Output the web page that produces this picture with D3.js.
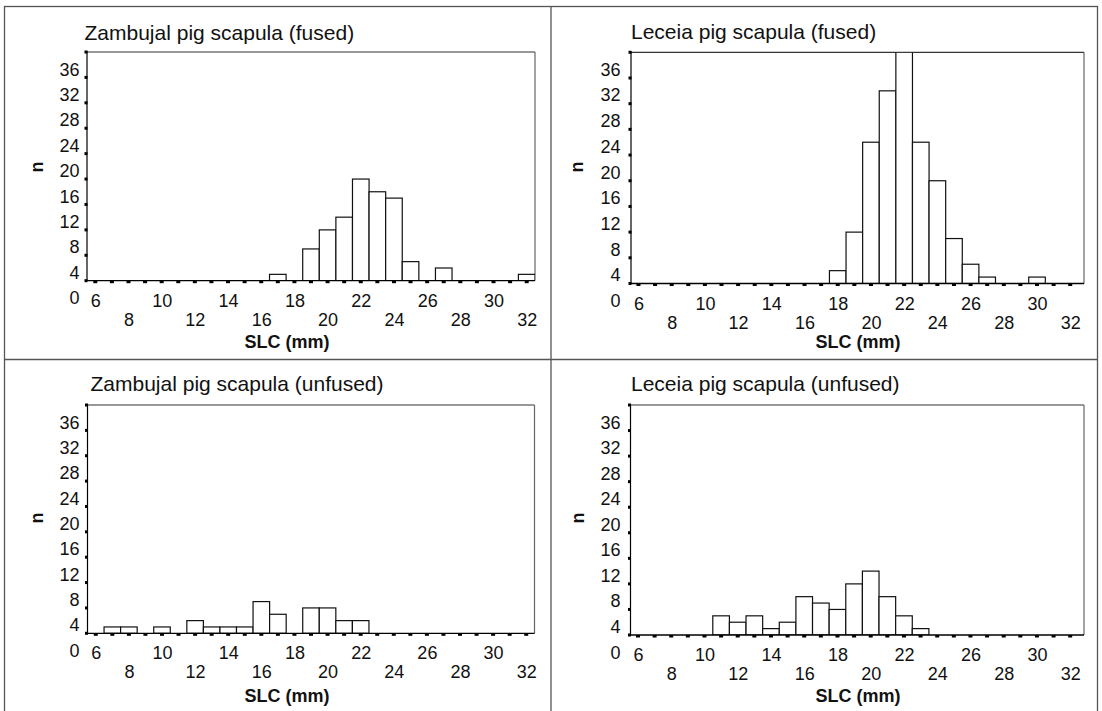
<!DOCTYPE html>
<html>
<head>
<meta charset="utf-8">
<script src="https://cdn.jsdelivr.net/npm/d3@7"></script>
<style>
  body { margin: 0; background: #fff; }
  svg { display: block; font-family: "Liberation Sans", Arial, Helvetica, sans-serif; }
</style>
</head>
<body>
<svg width="1102" height="711"></svg>
<script>
// counts per 1 mm SLC bin (bin label = bin centre)
const zambujalFusedBins = [17, 19, 20, 21, 22, 23, 24, 25, 27, 32];
const zambujalFusedN    = [1, 5, 8, 10, 16, 14, 13, 3, 2, 1];

const leceiaFusedBins = [18, 19, 20, 21, 22, 23, 24, 25, 26, 27, 30];
const leceiaFusedN    = [2, 8, 22, 30, 36, 22, 16, 7, 3, 1, 1];

const zambujalUnfusedBins = [7, 8, 10, 12, 13, 14, 15, 16, 17, 19, 20, 21, 22];
const zambujalUnfusedN    = [1, 1, 1, 2, 1, 1, 1, 5, 3, 4, 4, 2, 2];

const leceiaUnfusedBins = [11, 12, 13, 14, 15, 16, 17, 18, 19, 20, 21, 22, 23];
const leceiaUnfusedN    = [3, 2, 3, 1, 2, 6, 5, 4, 8, 10, 6, 3, 1];

const titles = [
  "Zambujal pig scapula (fused)",
  "Leceia pig scapula (fused)",
  "Zambujal pig scapula (unfused)",
  "Leceia pig scapula (unfused)"
];

const yTicks = [0, 4, 8, 12, 16, 20, 24, 28, 32, 36];
const xLabelsUpper = [6, 10, 14, 18, 22, 26, 30];
const xLabelsLower = [8, 12, 16, 20, 24, 28, 32];
const xMarks = [6, 7, 8, 9, 10, 11, 12, 13, 14, 15, 16, 17, 18, 19, 20, 21, 22, 23, 24, 25, 26, 27, 28, 29, 30, 31, 32];

const svg = d3.select("svg");

// outer frame and panel dividers
svg.append("rect")
   .attr("x", 4.5).attr("y", 6.5).attr("width", 1093).attr("height", 710)
   .attr("fill", "none").attr("stroke", "#555").attr("stroke-width", 1.3);
svg.append("line").attr("x1", 551).attr("x2", 551).attr("y1", 6).attr("y2", 711)
   .attr("stroke", "#555").attr("stroke-width", 1.3);
svg.append("line").attr("x1", 4).attr("x2", 1098).attr("y1", 359.5).attr("y2", 359.5)
   .attr("stroke", "#555").attr("stroke-width", 1.3);

const panels = [
  {bins: zambujalFusedBins, n: zambujalFusedN, title: titles[0],
   left: 87, right: 535, top: 52, bottom: 280.7, xDom: [5.5, 32.5],
   labelRight: 79.5, titleX: 84.5, titleY: 39.5, nX: 43, nY: 167, slcX: 287, slcY: 348},
  {bins: leceiaFusedBins, n: leceiaFusedN, title: titles[1],
   left: 631, right: 1084, top: 52.3, bottom: 283.5, xDom: [5.55, 32.83],
   labelRight: 620.5, titleX: 631, titleY: 38.5, nX: 583, nY: 167, slcX: 858, slcY: 348},
  {bins: zambujalUnfusedBins, n: zambujalUnfusedN, title: titles[2],
   left: 87.5, right: 534.5, top: 405, bottom: 633.3, xDom: [5.5, 32.5],
   labelRight: 79.5, titleX: 90.5, titleY: 391, nX: 43, nY: 518, slcX: 287, slcY: 701.5},
  {bins: leceiaUnfusedBins, n: leceiaUnfusedN, title: titles[3],
   left: 630.5, right: 1084, top: 405, bottom: 635, xDom: [5.55, 32.83],
   labelRight: 620.5, titleX: 631, titleY: 391, nX: 584, nY: 518, slcX: 858, slcY: 701.5}
];

panels.forEach((p, i) => {
  const x = d3.scaleLinear().domain(p.xDom).range([p.left, p.right]);
  const y = d3.scaleLinear().domain([0, 36]).range([p.bottom, p.top]);
  const g = svg.append("g");

  const clipId = "clip" + i;
  g.append("clipPath").attr("id", clipId)
   .append("rect")
   .attr("x", p.left).attr("y", p.top)
   .attr("width", p.right - p.left).attr("height", p.bottom - p.top);

  // frame (top and right lighter)
  g.append("line").attr("x1", p.left).attr("x2", p.right).attr("y1", p.top).attr("y2", p.top)
   .attr("stroke", "#333").attr("stroke-width", 1.2);
  g.append("line").attr("x1", p.right).attr("x2", p.right).attr("y1", p.top).attr("y2", p.bottom)
   .attr("stroke", "#666").attr("stroke-width", 1.2);

  // bars
  const data = p.bins.map((b, k) => ({bin: b, n: p.n[k]}));
  g.append("g").attr("clip-path", `url(#${clipId})`)
   .selectAll("rect").data(data).enter()
   .append("rect")
   .attr("x", d => x(d.bin - 0.5))
   .attr("width", d => x(d.bin + 0.5) - x(d.bin - 0.5))
   .attr("y", d => y(d.n))
   .attr("height", d => y(0) - y(d.n))
   .attr("fill", "#fff")
   .attr("stroke", "#111")
   .attr("stroke-width", 1.2);

  // axis lines
  g.append("line").attr("x1", p.left).attr("x2", p.left).attr("y1", p.top - 1).attr("y2", p.bottom)
   .attr("stroke", "#000").attr("stroke-width", 1.2);
  g.append("line").attr("x1", p.left).attr("x2", p.right).attr("y1", p.bottom).attr("y2", p.bottom)
   .attr("stroke", "#000").attr("stroke-width", 1.3);

  // y axis labels (sit below their tick marks as in the original)
  const yAxis = g.append("g")
    .attr("transform", `translate(${p.left},0)`)
    .call(d3.axisLeft(y).tickValues(yTicks).tickSize(0));
  yAxis.select(".domain").remove();
  yAxis.selectAll("text")
    .attr("x", p.labelRight - p.left)
    .attr("dy", null)
    .attr("y", 23)
    .attr("fill", "#111")
    .attr("font-size", 18)
    .attr("font-family", null);

  // y tick marks
  g.selectAll(".ymark").data(yTicks).enter()
   .append("rect").attr("class", "ymark")
   .attr("x", p.left - 2.5).attr("y", d => y(d) - 1.5)
   .attr("width", 3).attr("height", 3).attr("fill", "#000");

  // x tick marks
  g.selectAll(".xmark").data(xMarks).enter()
   .append("rect").attr("class", "xmark")
   .attr("x", d => x(d) - 2).attr("y", p.bottom)
   .attr("width", 4).attr("height", 2.5).attr("fill", "#000");

  // x labels in two staggered rows
  [[xLabelsUpper, 26], [xLabelsLower, 45]].forEach(([vals, off]) => {
    const ax = g.append("g")
      .attr("transform", `translate(0,${p.bottom})`)
      .call(d3.axisBottom(x).tickValues(vals).tickSize(0));
    ax.select(".domain").remove();
    ax.selectAll("text")
      .attr("y", off)
      .attr("dy", null)
      .attr("fill", "#111")
      .attr("font-size", 18)
      .attr("font-family", null);
  });

  // titles
  g.append("text")
   .attr("x", p.titleX).attr("y", p.titleY)
   .attr("font-size", 21).attr("fill", "#111")
   .text(p.title);

  g.append("text")
   .attr("x", p.slcX).attr("y", p.slcY)
   .attr("text-anchor", "middle")
   .attr("font-size", 18).attr("font-weight", "bold").attr("fill", "#111")
   .text("SLC (mm)");

  g.append("text")
   .attr("transform", `translate(${p.nX},${p.nY}) rotate(-90)`)
   .attr("text-anchor", "middle")
   .attr("font-size", 18).attr("font-weight", "bold").attr("fill", "#111")
   .text("n");
});
</script>
</body>
</html>
